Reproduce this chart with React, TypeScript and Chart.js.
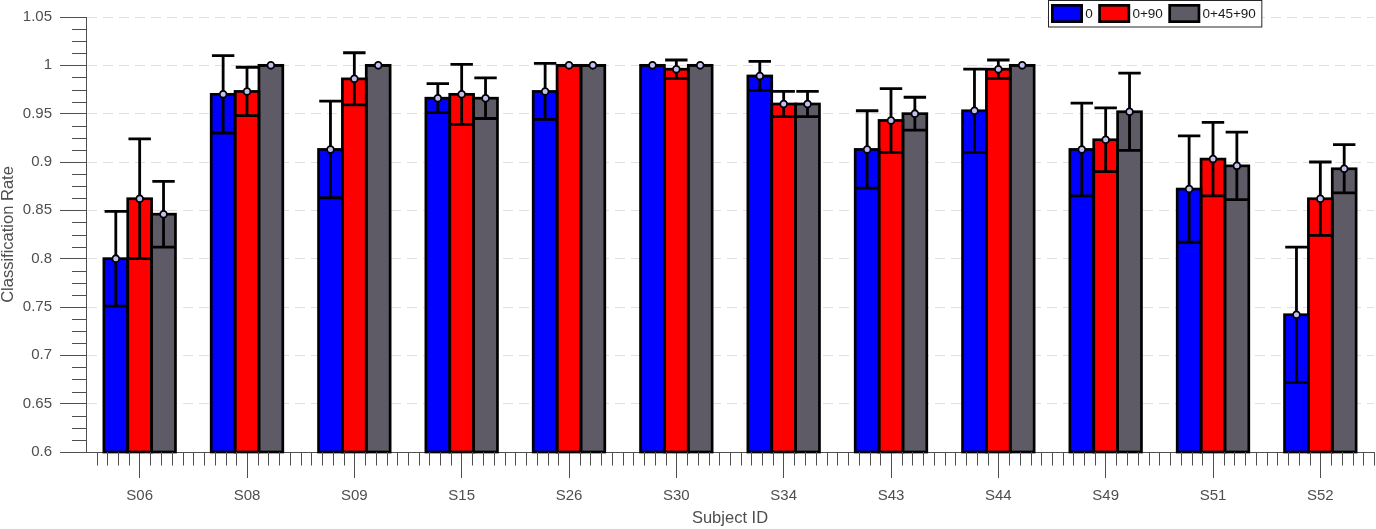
import React, { useEffect, useRef } from 'react';
import { Chart, registerables } from 'chart.js';

Chart.register(...registerables);

const subjects = ['S06', 'S08', 'S09', 'S15', 'S26', 'S30', 'S34', 'S43', 'S44', 'S49', 'S51', 'S52'];

const seriesLabels = ['0', '0+90', '0+45+90'];
const seriesColors = ['#0000ff', '#ff0000', '#5f5b66'];

// mean classification rate per subject
const mean0 = [0.800, 0.970, 0.913, 0.966, 0.973, 1.000, 0.989, 0.913, 0.953, 0.913, 0.872, 0.742];
const mean90 = [0.862, 0.973, 0.986, 0.970, 1.000, 0.996, 0.960, 0.943, 0.996, 0.923, 0.903, 0.862];
const mean4590 = [0.846, 1.000, 1.000, 0.966, 1.000, 1.000, 0.960, 0.950, 1.000, 0.952, 0.896, 0.893];

// standard deviation (error bar half-length)
const sd0 = [0.049, 0.040, 0.050, 0.015, 0.029, 0.000, 0.015, 0.040, 0.043, 0.048, 0.055, 0.070];
const sd90 = [0.062, 0.025, 0.027, 0.031, 0.000, 0.0095, 0.013, 0.033, 0.0095, 0.033, 0.038, 0.038];
const sd4590 = [0.034, 0.000, 0.000, 0.021, 0.000, 0.000, 0.013, 0.017, 0.000, 0.040, 0.035, 0.025];

const Y_MIN = 0.6;
const Y_MAX = 1.05;
const Y_STEP = 0.05;
const Y_MINOR = 0.0125;

const FONT = '"Liberation Sans", Arial, Helvetica, sans-serif';
const AXIS_GRAY = '#4f4f4f';
const MARKER_FILL = '#c0c0f2';

const fmtTick = (v: number) => Number(v).toFixed(2).replace(/0+$/, '').replace(/\.$/, '');

const errorBarPlugin = {
    id: 'errorBars',
    afterDatasetsDraw(chart: any) {
        const ctx = chart.ctx as CanvasRenderingContext2D;
        const yScale = chart.scales.y;
        const bottom = chart.chartArea.bottom;
        ctx.save();
        ctx.lineCap = 'butt';

        // bar outlines (shared edges like MATLAB)
        ctx.lineWidth = 2.7;
        ctx.strokeStyle = '#000';
        chart.data.datasets.forEach((_ds: any, di: number) => {
            chart.getDatasetMeta(di).data.forEach((bar: any) => {
                const { x, y, width } = bar.getProps(['x', 'y', 'width'], true);
                ctx.strokeRect(x - width / 2, y, width, bottom - y);
            });
        });

        // error bars
        ctx.lineWidth = 2.8;
        chart.data.datasets.forEach((ds: any, di: number) => {
            chart.getDatasetMeta(di).data.forEach((bar: any, i: number) => {
                const { x, width } = bar.getProps(['x', 'width'], true);
                const m = ds.data[i];
                const s = ds.sd[i];
                const yt = yScale.getPixelForValue(m + s);
                const yb = yScale.getPixelForValue(m - s);
                const cap = width * 0.47;
                ctx.beginPath();
                ctx.moveTo(x, yb);
                ctx.lineTo(x, yt);
                ctx.moveTo(x - cap, yt);
                ctx.lineTo(x + cap, yt);
                ctx.moveTo(x - cap, yb);
                ctx.lineTo(x + cap, yb);
                ctx.stroke();
            });
        });

        // mean markers
        ctx.lineWidth = 1.8;
        ctx.fillStyle = MARKER_FILL;
        chart.data.datasets.forEach((ds: any, di: number) => {
            chart.getDatasetMeta(di).data.forEach((bar: any, i: number) => {
                const { x } = bar.getProps(['x'], true);
                const ym = yScale.getPixelForValue(ds.data[i]);
                ctx.beginPath();
                ctx.arc(x, ym, 3.4, 0, Math.PI * 2);
                ctx.fill();
                ctx.stroke();
            });
        });
        ctx.restore();
    },
};

const minorTickPlugin = {
    id: 'minorTicks',
    afterDraw(chart: any) {
        const ctx = chart.ctx as CanvasRenderingContext2D;
        const xScale = chart.scales.x;
        const yScale = chart.scales.y;
        const area = chart.chartArea;
        ctx.save();
        ctx.strokeStyle = AXIS_GRAY;
        ctx.lineWidth = 1;
        ctx.beginPath();
        // y minor ticks
        const nMinor = Math.round((Y_MAX - Y_MIN) / Y_MINOR);
        for (let j = 1; j < nMinor; j++) {
            if (j % 4 === 0) continue;
            const py = Math.round(yScale.getPixelForValue(Y_MIN + j * Y_MINOR)) + 0.5;
            ctx.moveTo(area.left - 14, py);
            ctx.lineTo(area.left, py);
        }
        // x minor ticks, tenths of a category
        subjects.forEach((_s, i) => {
            for (let k = -4; k <= 5; k++) {
                if (k === 0) continue;
                const px = Math.round(xScale.getPixelForValue(i + k / 10)) + 0.5;
                if (px > area.right + 1) continue;
                ctx.moveTo(px, area.bottom);
                ctx.lineTo(px, area.bottom + 13.5);
            }
        });
        ctx.stroke();
        ctx.restore();
    },
};

const boxLegendPlugin = {
    id: 'boxLegend',
    afterDraw(chart: any) {
        const ctx = chart.ctx as CanvasRenderingContext2D;
        const datasets = chart.data.datasets;
        ctx.save();
        ctx.font = `13.5px ${FONT}`;
        const left = 1048.5;
        const top = 0.5;
        const height = 26.5;

        const widths = datasets.map((ds: any) => ctx.measureText(ds.label).width);
        let total = 2.5;
        widths.forEach((w: number) => { total += 34.2 + w + 5.5; });
        total += 0.5;

        ctx.fillStyle = '#fff';
        ctx.fillRect(left, top, total, height);
        ctx.strokeStyle = '#262626';
        ctx.lineWidth = 1;
        ctx.strokeRect(left, top, total, height);

        let x0 = left + 2.5;
        datasets.forEach((ds: any, i: number) => {
            ctx.fillStyle = ds.backgroundColor;
            ctx.fillRect(x0 + 1.35, 5.35, 29.3, 16.3);
            ctx.lineWidth = 2.7;
            ctx.strokeStyle = '#000';
            ctx.strokeRect(x0 + 1.35, 5.35, 29.3, 16.3);
            ctx.fillStyle = '#1a1a1a';
            ctx.textBaseline = 'middle';
            ctx.textAlign = 'left';
            ctx.fillText(ds.label, x0 + 34.2, 14);
            x0 += 34.2 + widths[i] + 5.5;
        });
        ctx.restore();
    },
};

const ClassificationChart: React.FC = () => {
    const chartRef = useRef<HTMLCanvasElement>(null);
    const chartInstance = useRef<Chart | null>(null);

    useEffect(() => {
        if (!chartRef.current) return;
        if (chartInstance.current) chartInstance.current.destroy();

        const means = [mean0, mean90, mean4590];
        const sds = [sd0, sd90, sd4590];

        chartInstance.current = new Chart(chartRef.current, {
            type: 'bar',
            data: {
                labels: subjects,
                datasets: seriesLabels.map((label, i) => ({
                    label,
                    data: means[i],
                    sd: sds[i],
                    backgroundColor: seriesColors[i],
                    borderWidth: 0,
                    categoryPercentage: 0.667,
                    barPercentage: 1,
                })) as any,
            },
            options: {
                animation: false,
                responsive: true,
                maintainAspectRatio: false,
                layout: { padding: { top: 8, right: 2, left: 0, bottom: 0 } },
                plugins: {
                    legend: { display: false },
                    tooltip: { enabled: false },
                },
                scales: {
                    x: {
                        type: 'category',
                        offset: true,
                        grid: {
                            display: true,
                            drawOnChartArea: false,
                            drawTicks: true,
                            tickLength: 26,
                            tickColor: AXIS_GRAY,
                            offset: false,
                        },
                        border: { display: true, color: AXIS_GRAY, width: 1 },
                        ticks: {
                            color: AXIS_GRAY,
                            font: { family: FONT, size: 15 },
                            padding: 9,
                            maxRotation: 0,
                            autoSkip: false,
                        },
                        title: {
                            display: true,
                            text: 'Subject ID',
                            color: AXIS_GRAY,
                            font: { family: FONT, size: 16.5, lineHeight: 1.2 },
                            padding: { top: 0, bottom: 1 },
                        },
                        afterFit: (scale: any) => { scale.height = 77; },
                    },
                    y: {
                        type: 'linear',
                        min: Y_MIN,
                        max: Y_MAX,
                        grid: {
                            color: '#e0e0e0',
                            lineWidth: 1,
                            drawTicks: true,
                            tickLength: 26,
                            tickColor: AXIS_GRAY,
                        },
                        border: { display: true, color: AXIS_GRAY, width: 1, dash: [10, 6] },
                        ticks: {
                            stepSize: Y_STEP,
                            color: AXIS_GRAY,
                            font: { family: FONT, size: 15 },
                            padding: 8,
                            callback: (v: any) => fmtTick(v),
                        },
                        title: {
                            display: true,
                            text: 'Classification Rate',
                            color: AXIS_GRAY,
                            font: { family: FONT, size: 16.5, lineHeight: 1.2 },
                            padding: { top: -1, bottom: 2 },
                        },
                        afterFit: (scale: any) => { scale.width = 86; },
                    },
                },
            },
            plugins: [errorBarPlugin, minorTickPlugin, boxLegendPlugin],
        });

        return () => {
            if (chartInstance.current) {
                chartInstance.current.destroy();
                chartInstance.current = null;
            }
        };
    }, []);

    return (
        <div style={{ position: 'absolute', left: 0, top: 0, width: 1376, height: 529, background: '#fff' }}>
            <canvas ref={chartRef}></canvas>
        </div>
    );
};

export default function App() {
    return <ClassificationChart />;
}
